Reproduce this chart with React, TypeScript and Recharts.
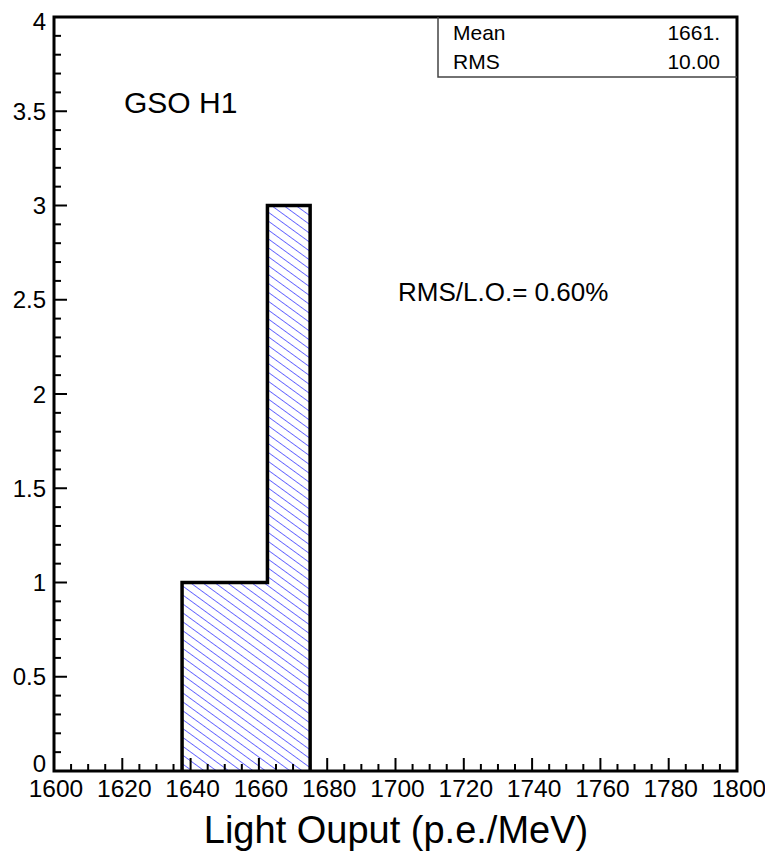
import { ComposedChart, Area, XAxis, YAxis, ReferenceArea } from "recharts";

// histogram bins that have entries (the rest of 1600-1800 is empty)
const binLow = [1637.5, 1650, 1662.5];
const binHigh = [1650, 1662.5, 1675];
const counts = [1, 1, 3];

const xMajor = [1600, 1620, 1640, 1660, 1680, 1700, 1720, 1740, 1760, 1780, 1800];
const yMajor = [0, 0.5, 1, 1.5, 2, 2.5, 3, 3.5, 4];

const statNames = ["Mean", "RMS"];
const statValues = ["1661.", "10.00"];

const FONT = "'Liberation Sans', Arial, sans-serif";

// step outline: start at the baseline, one point per bin, drop back to 0
const stepData = [
  { x: binLow[0], y: 0 },
  ...binLow.map((lo, i) => ({ x: lo, y: counts[i] })),
  { x: binHigh[binHigh.length - 1], y: 0 },
];

function withMinors(major: number[], parts: number) {
  const out: number[] = [];
  major.forEach((v, i) => {
    out.push(v);
    if (i < major.length - 1) {
      const step = (major[i + 1] - v) / parts;
      for (let k = 1; k < parts; k++) out.push(+(v + k * step).toFixed(4));
    }
  });
  return out;
}

const xTicks = withMinors(xMajor, 4);
const yTicks = withMinors(yMajor, 5);

function XTick(props: any) {
  const { x, y, payload } = props;
  const major = xMajor.includes(payload.value);
  return (
    <g>
      <line x1={x} y1={y} x2={x} y2={y - (major ? 13 : 7)} stroke="#000" strokeWidth={2} />
      {major && (
        <text x={x + 2} y={y + 26} textAnchor="middle" fontSize={24.5} fontFamily={FONT} fill="#000">
          {payload.value}
        </text>
      )}
    </g>
  );
}

function YTick(props: any) {
  const { x, y, payload } = props;
  const v = payload.value;
  const major = yMajor.includes(v);
  // ROOT nudges the end labels inwards
  const shift = v === 0 ? -8 : v === 4 ? 4 : 0;
  return (
    <g>
      <line x1={x} y1={y} x2={x + (major ? 13 : 7)} y2={y} stroke="#000" strokeWidth={2} />
      {major && (
        <text x={x - 8} y={y + shift} dy="0.36em" textAnchor="end" fontSize={24} fontFamily={FONT} fill="#000">
          {v}
        </text>
      )}
    </g>
  );
}

export default function App() {
  return (
    <div style={{ position: "absolute", left: 0, top: 0, width: 765, height: 853, background: "#fff" }}>
      <svg width={0} height={0} style={{ position: "absolute" }}>
        <defs>
          <pattern id="hatch" patternUnits="userSpaceOnUse" width={7.2} height={7.2} patternTransform="rotate(-54)">
            <line x1={0} y1={0} x2={0} y2={7.2} stroke="#3a3aff" strokeWidth={1.4} />
          </pattern>
        </defs>
      </svg>
      <ComposedChart
        width={765}
        height={853}
        data={stepData}
        margin={{ top: 17, right: 28, bottom: 0, left: 0 }}
      >
        <XAxis
          dataKey="x"
          type="number"
          domain={[1600, 1800]}
          ticks={xTicks}
          interval={0}
          allowDataOverflow
          axisLine={false}
          tickLine={false}
          tickSize={0}
          tickMargin={0}
          height={82}
          tick={<XTick />}
        />
        <YAxis
          type="number"
          domain={[0, 4]}
          ticks={yTicks}
          interval={0}
          axisLine={false}
          tickLine={false}
          tickSize={0}
          tickMargin={0}
          width={54}
          tick={<YTick />}
        />
        <Area
          dataKey="y"
          type="stepAfter"
          fill="url(#hatch)"
          fillOpacity={1}
          stroke="#000"
          strokeWidth={3.5}
          strokeLinejoin="miter"
          isAnimationActive={false}
        />
        <ReferenceArea x1={1600} x2={1800} y1={0} y2={4} fill="none" stroke="#000" strokeWidth={3} ifOverflow="visible" />
      </ComposedChart>
      <svg
        width={765}
        height={853}
        style={{ position: "absolute", left: 0, top: 0, pointerEvents: "none" }}
        fontFamily={FONT}
      >
        <polyline points="438,17 438,77 737,77" fill="none" stroke="#444" strokeWidth={1.5} />
        {statNames.map((n, i) => (
          <g key={n}>
            <text x={453} y={40 + i * 29} fontSize={21} fill="#000">{n}</text>
            <text x={720} y={40 + i * 29} fontSize={21} textAnchor="end" fill="#000">{statValues[i]}</text>
          </g>
        ))}
        <text x={124} y={113} fontSize={30} fill="#000">GSO H1</text>
        <text x={398} y={301} fontSize={26} fill="#000">RMS/L.O.= 0.60%</text>
        <text x={396} y={843} fontSize={38} textAnchor="middle" fill="#000">Light Ouput (p.e./MeV)</text>
      </svg>
    </div>
  );
}
